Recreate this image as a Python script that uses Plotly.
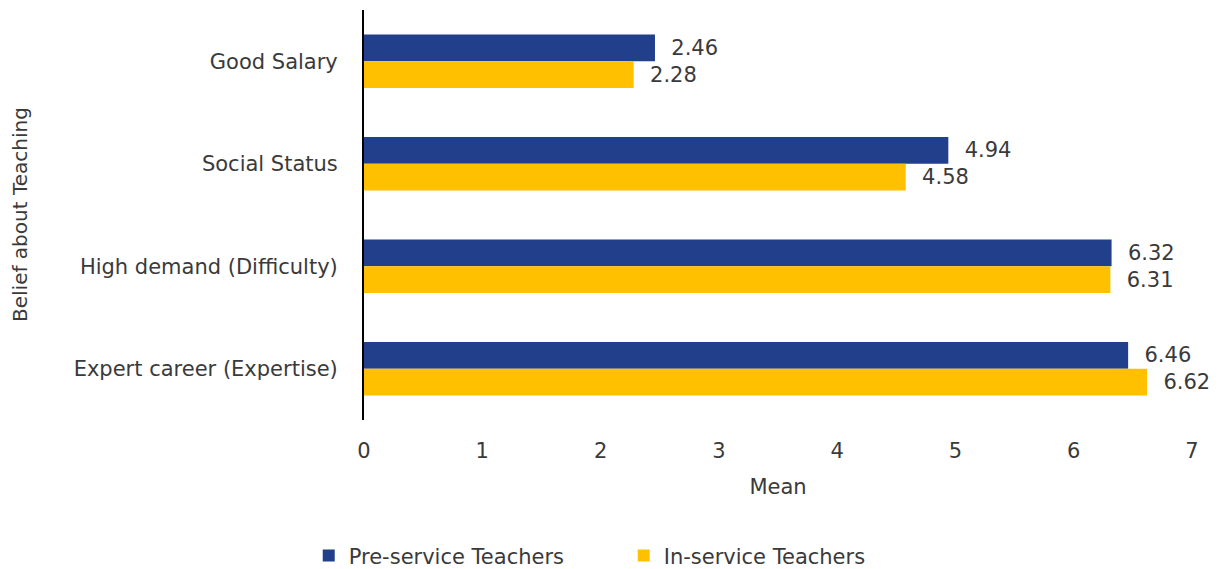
import plotly.graph_objects as go

# Beliefs about teaching, mean scores by group
categories = ["Good Salary", "Social Status", "High demand (Difficulty)", "Expert career (Expertise)"]
pre_service = [2.46, 4.94, 6.32, 6.46]
in_service = [2.28, 4.58, 6.31, 6.62]
x_ticks = [0, 1, 2, 3, 4, 5, 6, 7]

NAVY = "#213F8A"
GOLD = "#FFC000"
TEXT = "#3A3A3A"
FONT = "DejaVu Sans"
SIZE = 21

fig = go.Figure()
fig.add_trace(go.Bar(
    y=categories, x=pre_service, orientation="h", name="Pre-service Teachers",
    marker=dict(color=NAVY, line=dict(width=0)),
    text=[f"\u00a0\u00a0{v:.2f}" for v in pre_service], textposition="outside",
    textfont=dict(family=FONT, size=SIZE, color=TEXT), cliponaxis=False,
))
fig.add_trace(go.Bar(
    y=categories, x=in_service, orientation="h", name="In-service Teachers",
    marker=dict(color=GOLD, line=dict(width=0)),
    text=[f"\u00a0\u00a0{v:.2f}" for v in in_service], textposition="outside",
    textfont=dict(family=FONT, size=SIZE, color=TEXT), cliponaxis=False,
))

fig.update_layout(
    width=1223, height=569,
    margin=dict(l=364, r=31, t=10, b=149),
    barmode="group", bargap=0.48, bargroupgap=0,
    plot_bgcolor="white", paper_bgcolor="white",
    font=dict(family=FONT, size=SIZE, color=TEXT),
    showlegend=True,
    legend=dict(orientation="h", xref="container", x=0.51, xanchor="center",
                yref="container", y=0.023, yanchor="middle",
                font=dict(family=FONT, size=SIZE, color=TEXT),
                itemwidth=30, entrywidth=270, traceorder="normal"),
    annotations=[dict(
        text="Belief about Teaching", xref="paper", yref="paper",
        x=-(364 - 20) / 828, y=0.5, xanchor="center", yanchor="middle",
        textangle=-90, showarrow=False,
        font=dict(family=FONT, size=SIZE - 1, color=TEXT),
    )],
)
fig.update_xaxes(
    range=[0, 7], tickvals=x_ticks, showgrid=False, zeroline=False,
    showline=False, ticks="", ticklabelstandoff=16,
    title=dict(text="Mean", standoff=17, font=dict(family=FONT, size=SIZE, color=TEXT)),
)
fig.update_yaxes(
    autorange="reversed", showgrid=False, zeroline=False,
    showline=True, linecolor="black", linewidth=2, ticks="", ticklabelstandoff=20,
)

fig.write_html("out.html")
